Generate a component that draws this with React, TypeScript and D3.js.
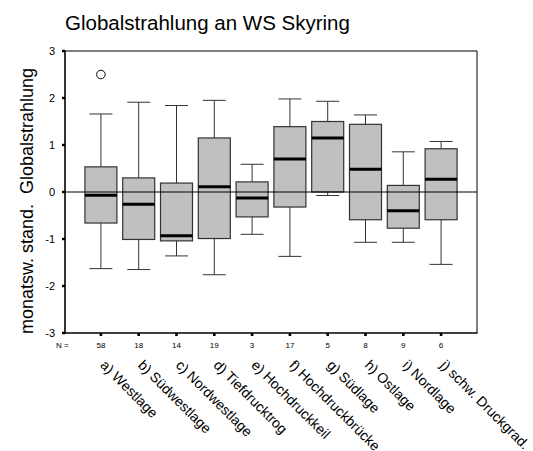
import React from "react";
import * as d3 from "d3";

const categories = [
  "a) Westlage",
  "b) Südwestlage",
  "c) Nordwestlage",
  "d) Tiefdrucktrog",
  "e) Hochdruckkeil",
  "f) Hochdruckbrücke",
  "g) Südlage",
  "h) Ostlage",
  "i) Nordlage",
  "j) schw. Druckgrad.",
];
const nCounts = [58, 18, 14, 19, 3, 17, 5, 8, 9, 6];
const whiskerLow = [-1.63, -1.65, -1.36, -1.76, -0.9, -1.37, -0.075, -1.07, -1.07, -1.54];
const q1 = [-0.66, -1.01, -1.04, -0.99, -0.53, -0.32, 0.0, -0.59, -0.77, -0.59];
const medians = [-0.07, -0.26, -0.93, 0.11, -0.13, 0.7, 1.15, 0.485, -0.4, 0.27];
const q3 = [0.535, 0.3, 0.19, 1.15, 0.215, 1.39, 1.5, 1.44, 0.14, 0.92];
const whiskerHigh = [1.66, 1.91, 1.84, 1.95, 0.59, 1.98, 1.93, 1.64, 0.855, 1.075];
const outlierCats = [0];
const outlierValues = [2.5];
const yTicks = [-3, -2, -1, 0, 1, 2, 3];

const title = "Globalstrahlung an WS Skyring";
const yLabel = "monatsw. stand.  Globalstrahlung";

export default function App() {
  const W = 533;
  const H = 451;
  const left = 65, right = 477, top = 51, bottom = 333;
  const font = "'Liberation Sans', Arial, sans-serif";

  const x = d3.scalePoint<string>().domain(categories).range([left, right]).padding(0.95);
  const y = d3.scaleLinear().domain([-3, 3]).range([bottom, top]);

  const boxW = 32;
  const capW = 23;

  return (
    <div style={{ position: "absolute", left: 0, top: 0 }}>
      <svg width={W} height={H} style={{ display: "block", background: "#fff" }} fontFamily={font}>
        <text x={65} y={29.5} fontSize={20.5} fill="#000">{title}</text>

        <text
          transform={`translate(33, 201) rotate(-90)`}
          textAnchor="middle"
          fontSize={18}
          fill="#000"
        >
          {yLabel.replace(/ /g, "\u00a0")}
        </text>

        {/* boxes */}
        {categories.map((c, i) => {
          const cx = x(c)!;
          return (
            <g key={c}>
              <line x1={cx} x2={cx} y1={y(whiskerHigh[i])} y2={y(q3[i])} stroke="#333" strokeWidth={1} />
              <line x1={cx} x2={cx} y1={y(q1[i])} y2={y(whiskerLow[i])} stroke="#333" strokeWidth={1} />
              <line x1={cx - capW / 2} x2={cx + capW / 2} y1={y(whiskerHigh[i])} y2={y(whiskerHigh[i])} stroke="#333" strokeWidth={1} />
              <line x1={cx - capW / 2} x2={cx + capW / 2} y1={y(whiskerLow[i])} y2={y(whiskerLow[i])} stroke="#333" strokeWidth={1} />
              <rect
                x={cx - boxW / 2}
                y={y(q3[i])}
                width={boxW}
                height={y(q1[i]) - y(q3[i])}
                fill="#c0c0c0"
                stroke="#333"
                strokeWidth={1.2}
              />
              <line x1={cx - boxW / 2} x2={cx + boxW / 2} y1={y(medians[i])} y2={y(medians[i])} stroke="#000" strokeWidth={3} />
            </g>
          );
        })}

        {outlierCats.map((ci, k) => (
          <circle key={k} cx={x(categories[ci])!} cy={y(outlierValues[k])} r={4.3} fill="#fff" stroke="#000" strokeWidth={1} />
        ))}

        {/* zero reference line */}
        <line x1={left} x2={right} y1={y(0)} y2={y(0)} stroke="#000" strokeWidth={1} />

        {/* frame */}
        <line x1={left} x2={right} y1={top} y2={top} stroke="#000" strokeWidth={1} />
        <line x1={right} x2={right} y1={top} y2={bottom} stroke="#000" strokeWidth={1} />
        <line x1={left} x2={left} y1={top - 0.5} y2={bottom + 0.75} stroke="#000" strokeWidth={1.6} />
        <line x1={left} x2={right + 0.5} y1={bottom} y2={bottom} stroke="#000" strokeWidth={1.6} />

        {/* y ticks */}
        {yTicks.map((t) => (
          <g key={t}>
            <rect x={left - 3} y={y(t) - 1.2} width={3} height={2.4} fill="#000" />
            <text x={55} y={y(t) + 4} textAnchor="end" fontSize={11} fill="#000">{t}</text>
          </g>
        ))}

        {/* x ticks, N row, labels */}
        <text x={56} y={348} fontSize={8} fill="#000">N =</text>
        {categories.map((c, i) => {
          const cx = x(c)!;
          return (
            <g key={"x" + c}>
              <rect x={cx - 1.3} y={bottom} width={2.6} height={3} fill="#000" />
              <text x={cx} y={348} textAnchor="middle" fontSize={8} fill="#000">{nCounts[i]}</text>
              <text
                transform={`translate(${cx - 1.5}, 366) rotate(45)`}
                fontSize={14}
                fill="#000"
              >
                {c}
              </text>
            </g>
          );
        })}
      </svg>
    </div>
  );
}
